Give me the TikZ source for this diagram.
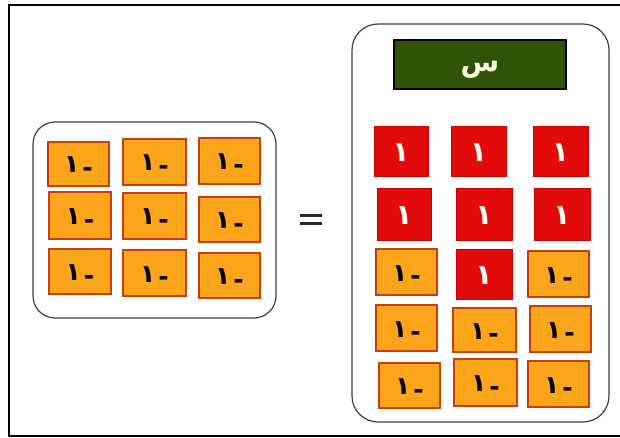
\documentclass[tikz,border=0pt]{standalone}
\usepackage{fontspec}
\setmainfont{DejaVu Sans}
\newfontfamily\arfont[Script=Arabic]{DejaVu Sans}
\TeXXeTstate=1
\definecolor{tileor}{HTML}{FDA51A}
\definecolor{tilebd}{HTML}{C4400E}
\definecolor{tilered}{HTML}{E20A0A}
\definecolor{redbd}{HTML}{C80000}
\definecolor{bargreen}{HTML}{2F5506}
\definecolor{boxline}{HTML}{404040}
\tikzset{
  otile/.style={draw=tilebd, line width=2.8pt, fill=tileor, inner sep=0pt,
    text height=18pt, text depth=0pt,
    font=\arfont\bfseries\fontsize{25}{25}\selectfont, text=black},
  rtile/.style={draw=redbd, line width=1pt, fill=tilered, inner sep=0pt,
    text height=20pt, text depth=0pt,
    font=\arfont\bfseries\fontsize{28}{28}\selectfont, text=white!95!yellow},
  panel/.style={draw=boxline, line width=1.2pt, rounded corners=22pt},
}
\newcommand{\negone}{\beginR\raisebox{-0.14em}{-}\kern3pt ١\endR}
\newcommand{\otl}[6]{\node[otile, minimum width=#4pt, minimum height=#5pt] (#1) at (#2,#3) {#6};}
\newcommand{\rone}{١}
\begin{document}
\begin{tikzpicture}[x=1pt,y=-1pt]
\useasboundingbox (0,0) rectangle (620,438);
\fill[white] (0,0) rectangle (620,438);
% outer frame
\draw[line width=1.6pt, black] (622,5) -- (9,5) -- (9,436) -- (622,436);
% panels
\node[panel, minimum width=243pt, minimum height=196pt, inner sep=0pt] (lp) at (154.5,220) {};
\node[panel, rounded corners=26pt, minimum width=257pt, minimum height=398pt, inner sep=0pt] (rp) at (480.5,223) {};
% left tiles
\otl{a1}{78.5}{164}{61}{44}{\negone}
\otl{a2}{154.5}{162}{63}{46}{\negone}
\otl{a3}{229.5}{161}{61}{46}{\negone}
\otl{b1}{80}{215.5}{62}{47}{\negone}
\otl{b2}{154.5}{216}{63}{46}{\negone}
\otl{b3}{229.5}{219.5}{61}{45}{\negone}
\otl{c1}{80}{271.5}{62}{45}{\negone}
\otl{c2}{154.5}{273}{63}{46}{\negone}
\otl{c3}{229.5}{275.5}{61}{45}{\negone}
% equals sign
\node[inner sep=0pt, minimum width=22pt, minimum height=11pt] (eq) at (311,219.5) {};
\fill[black!85] (eq.north west) rectangle ([yshift=-3.5pt]eq.north east);
\fill[black!85] (eq.south west) rectangle ([yshift=3.5pt]eq.south east);
% green bar
\node[draw=black, line width=2.2pt, fill=bargreen, minimum width=172pt, minimum height=49pt,
  text height=14pt, text depth=0pt,
  text=white!90!yellow, font=\arfont\bfseries\fontsize{28}{28}\selectfont] (x) at (480,64.5) {\beginR س\endR};
% red tiles
\node[rtile, minimum width=54pt, minimum height=50pt] (r11) at (401,152) {\rone};
\node[rtile, minimum width=55pt, minimum height=50pt] (r12) at (478.5,152) {\rone};
\node[rtile, minimum width=55pt, minimum height=50pt] (r13) at (560.5,152) {\rone};
\node[rtile, minimum width=54pt, minimum height=51pt] (r21) at (404,214.5) {\rone};
\node[rtile, minimum width=56pt, minimum height=51pt] (r22) at (484,214.5) {\rone};
\node[rtile, minimum width=56pt, minimum height=51pt] (r23) at (562,214.5) {\rone};
\node[rtile, minimum width=56pt, minimum height=50pt] (r32) at (484,274) {\rone};
% right orange tiles
\otl{s31}{406.5}{272}{61}{46}{\negone}
\otl{s33}{558.5}{274}{61}{46}{\negone}
\otl{s41}{406.5}{328}{61}{46}{\negone}
\otl{s42}{484.5}{330}{63}{44}{\negone}
\otl{s43}{560.5}{329}{61}{46}{\negone}
\otl{s51}{409.5}{385.5}{61}{45}{\negone}
\otl{s52}{485.5}{382.5}{63}{47}{\negone}
\otl{s53}{558.5}{384}{61}{46}{\negone}
\end{tikzpicture}
\end{document}
